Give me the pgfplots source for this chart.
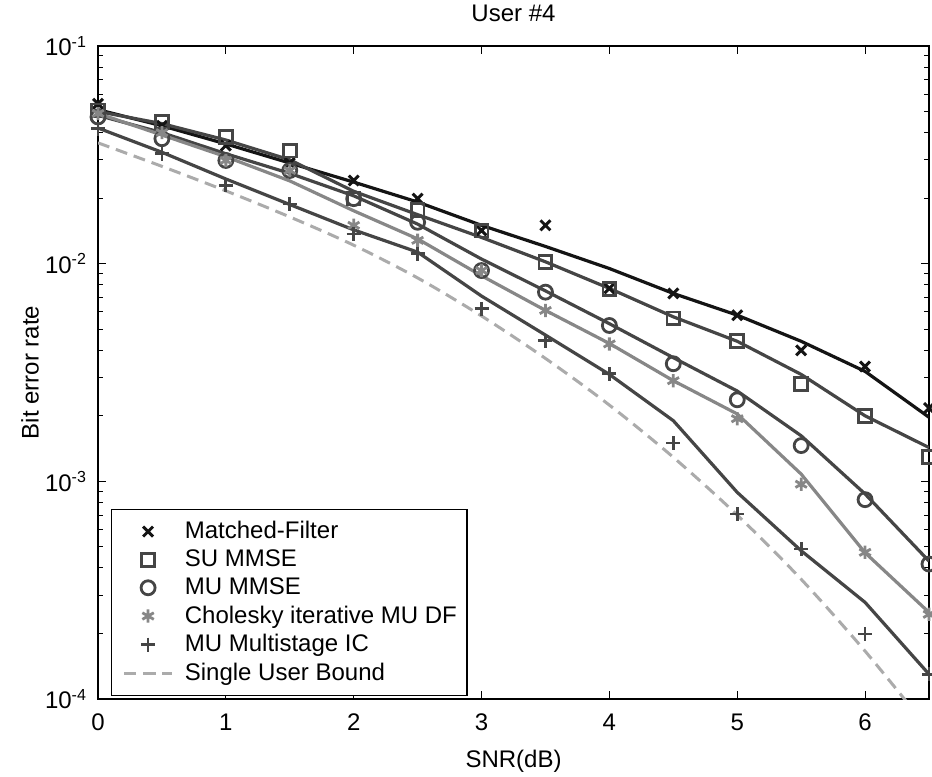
\documentclass[border=0pt]{standalone}
\usepackage{fontspec}
\setmainfont{Liberation Sans}
\usepackage{pgfplots}
\pgfplotsset{compat=1.18}
\definecolor{cMF}{HTML}{141414}
\definecolor{cDark}{HTML}{454545}
\definecolor{cChol}{HTML}{878787}
\definecolor{cBound}{HTML}{ABABAB}
\newcommand\lbl{\fontsize{12}{14.4}\selectfont}

\begin{document}
\begin{tikzpicture}
\begin{axis}[name=ax, width=415.5pt, height=326.5pt, scale only axis,
  ymode=log, xmin=0, xmax=6.5, ymin=1e-4, ymax=1e-1,
  xtick={0,1,2,3,4,5,6}, xticklabels={0,1,2,3,4,5,6},
  ytick={1e-4,1e-3,1e-2,1e-1},
  yticklabels={10\textsuperscript{-4},10\textsuperscript{-3},10\textsuperscript{-2},10\textsuperscript{-1}},
  tick align=inside, major tick length=4pt, minor tick length=2.5pt,
  tick style={black, line width=0.5pt}, axis line style={line width=0.6pt},
  tick label style={font=\lbl}, yticklabel style={xshift=-2pt}, xticklabel style={yshift=-4pt},
  label style={font=\lbl}, title style={font=\lbl, at={(0.5,1.0505)}, anchor=center, yshift=-6pt},
  title={User \#4}, xlabel={SNR(dB)}, ylabel={Bit error rate},
  xlabel style={at={(axis description cs:0.5,-0.0888)}, anchor=center, yshift=-2pt},
  ylabel style={at={(axis description cs:-0.0818,0.5)}, anchor=center},
  legend cell align=left,
  legend image code/.code={\path (0cm,0cm) (1.06cm,0cm);
    \draw[mark repeat=2,mark phase=2,#1] plot coordinates {(0.09cm,0cm) (0.51cm,0cm) (0.93cm,0cm)};},
  legend style={font=\lbl, at={(0.0156,0.0046)}, anchor=south west, draw=black,
    line width=0.6pt, inner xsep=3pt, inner ysep=4pt, row sep=0.1pt, nodes={inner xsep=2pt}}]

% analytic curves
\addplot[cMF, line width=1.6pt, forget plot] coordinates {(0,0.051)(0.5,0.043)(1,0.0355)(1.5,0.029)(2,0.0237)(2.5,0.0192)(3,0.015)(3.5,0.012)(4,0.0095)(4.5,0.0073)(5,0.0058)(5.5,0.0044)(6,0.0032)(6.5,0.00197)};
\addplot[cDark, line width=1.6pt, forget plot] coordinates {(0,0.050)(0.5,0.044)(1,0.037)(1.5,0.030)(2,0.0215)(2.5,0.0168)(3,0.0132)(3.5,0.0102)(4,0.0077)(4.5,0.0057)(5,0.0044)(5.5,0.0031)(6,0.0020)(6.5,0.00143)};
\addplot[cDark, line width=1.6pt, forget plot] coordinates {(0,0.048)(0.5,0.040)(1,0.032)(1.5,0.026)(2,0.0205)(2.5,0.0152)(3,0.0105)(3.5,0.0075)(4,0.0053)(4.5,0.0037)(5,0.0026)(5.5,0.00162)(6,0.000875)(6.5,0.00043)};
\addplot[cChol, line width=1.6pt, forget plot] coordinates {(0,0.049)(0.5,0.039)(1,0.031)(1.5,0.024)(2,0.0175)(2.5,0.013)(3,0.0088)(3.5,0.0061)(4,0.0043)(4.5,0.0029)(5,0.00204)(5.5,0.00108)(6,0.00047)(6.5,0.00025)};
\addplot[cDark, line width=1.6pt, forget plot] coordinates {(0,0.042)(0.5,0.0325)(1,0.0245)(1.5,0.0187)(2,0.0143)(2.5,0.0113)(3,0.0071)(3.5,0.0047)(4,0.0031)(4.5,0.0019)(5,0.00089)(5.5,0.00048)(6,0.000278)(6.5,0.00013)};

% simulated points
\addplot[cMF, only marks, mark=x, mark size=3.5pt, line width=1.5pt] coordinates {(0,0.0543)(0.5,0.043)(1,0.0349)(1.5,0.029)(2,0.0241)(2.5,0.0199)(3,0.0142)(3.5,0.0150)(4,0.0077)(4.5,0.0073)(5,0.0058)(5.5,0.0040)(6,0.00337)(6.5,0.00217)};
\addlegendentry{Matched-Filter}
\addplot[cDark, only marks, mark=square, mark size=3.2pt, line width=1.4pt] coordinates {(0,0.0506)(0.5,0.0448)(1,0.0382)(1.5,0.0331)(2,0.0199)(2.5,0.0176)(3,0.0142)(3.5,0.0102)(4,0.00767)(4.5,0.00561)(5,0.00441)(5.5,0.0028)(6,0.0020)(6.5,0.00129)};
\addlegendentry{SU MMSE}
\addplot[cDark, only marks, mark=o, mark size=3.5pt, line width=1.4pt] coordinates {(0,0.0472)(0.5,0.0375)(1,0.0298)(1.5,0.0268)(2,0.0199)(2.5,0.0155)(3,0.0093)(3.5,0.0074)(4,0.0052)(4.5,0.00347)(5,0.00237)(5.5,0.00146)(6,0.000824)(6.5,0.000417)};
\addlegendentry{MU MMSE}
\addplot[cChol, only marks, mark=asterisk, mark size=3.3pt, line width=1.4pt] coordinates {(0,0.049)(0.5,0.040)(1,0.0298)(1.5,0.0268)(2,0.0150)(2.5,0.0128)(3,0.0093)(3.5,0.0061)(4,0.00428)(4.5,0.0029)(5,0.00194)(5.5,0.00097)(6,0.000472)(6.5,0.000245)};
\addlegendentry{Cholesky iterative MU DF\hspace{9pt}}
\addplot[cDark, only marks, mark=+, mark size=3.5pt, line width=1.4pt] coordinates {(0,0.0417)(0.5,0.032)(1,0.0229)(1.5,0.0188)(2,0.0137)(2.5,0.0111)(3,0.0062)(3.5,0.00443)(4,0.00312)(4.5,0.0015)(5,0.000708)(5.5,0.000489)(6,0.000199)(6.5,0.00013)};
\addlegendentry{MU Multistage IC}

\addplot[cBound, line width=1.5pt, dash pattern=on 6pt off 3.5pt, smooth] coordinates {(0,0.0359)(0.5,0.028)(1,0.0216)(1.5,0.0164)(2,0.01216)(2.5,0.0086)(3,0.00575)(3.5,0.00367)(4,0.00224)(4.5,0.00129)(5,0.0007)(5.5,0.000355)(6,0.000166)(6.5,0.0000724)};
\addlegendentry{Single User Bound}
\end{axis}
\pgfresetboundingbox
\path[use as bounding box] ([shift={(-49pt,-38.5pt)}]ax.south west) rectangle ([shift={(1.5pt,23pt)}]ax.north east);
\end{tikzpicture}
\end{document}
